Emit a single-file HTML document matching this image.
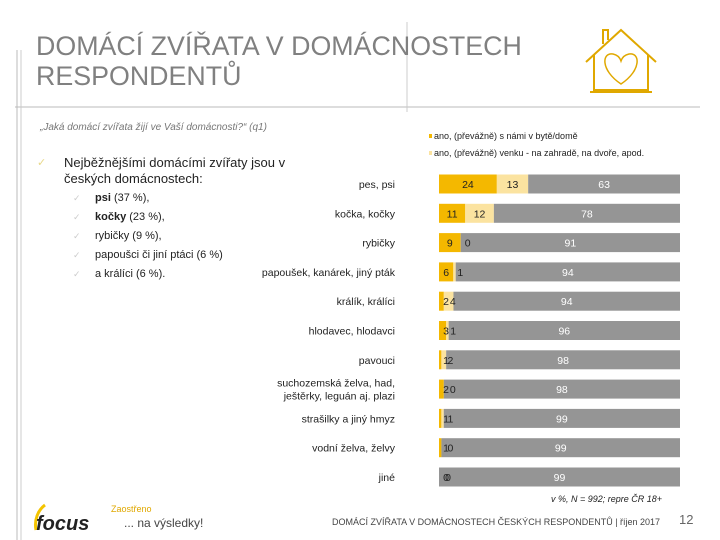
<!DOCTYPE html>
<html><head><meta charset="utf-8"><style>
body{margin:0;background:#fff;}
svg{display:block;font-family:"Liberation Sans",sans-serif;}
</style></head><body>
<svg width="720" height="540" viewBox="0 0 720 540" xmlns="http://www.w3.org/2000/svg">
<line x1="15" y1="107" x2="700" y2="107" stroke="#bbb"/>
<line x1="17" y1="50" x2="17" y2="540" stroke="#bbb"/>
<line x1="21" y1="50" x2="21" y2="540" stroke="#ccc"/>
<line x1="407" y1="22" x2="407" y2="112" stroke="#ccc"/>
<text x="36" y="55" font-size="26.8" fill="#808080">DOMÁCÍ ZVÍŘATA V DOMÁCNOSTECH</text>
<text x="36" y="85" font-size="26.8" fill="#808080">RESPONDENTŮ</text>
<g fill="none" stroke="#E0A800" stroke-width="2">
<path d="M586 62 L621 30 L656 62"/><path d="M594 55 V90 H648 V55"/><path d="M590 92 H652"/><path d="M603 44 V30 H608 V40"/>
<path d="M621 84 C600 70 602 52 613 54 C618 55 620 58 621 61 C622 58 624 55 629 54 C640 52 642 70 621 84Z" stroke-width="1.5"/>
</g>
<text x="40" y="130" font-size="10" font-style="italic" fill="#777">„Jaká domácí zvířata žijí ve Vaší domácnosti?“ (q1)</text>
<text x="37" y="166" font-size="11" fill="#e8d88a">✓</text>
<text x="64" y="167" font-size="13" fill="#222">Nejběžnějšími domácími zvířaty jsou v</text>
<text x="64" y="183" font-size="13" fill="#222">českých domácnostech:</text>
<g font-size="11" fill="#222">
<text x="95" y="201"><tspan font-weight="bold">psi</tspan> (37 %),</text>
<text x="95" y="220"><tspan font-weight="bold">kočky</tspan> (23 %),</text>
<text x="95" y="239">rybičky (9 %),</text>
<text x="95" y="258">papoušci či jiní ptáci (6 %)</text>
<text x="95" y="277">a králíci (6 %).</text>
<g fill="#ccc" font-size="9"><text x="73" y="201">✓</text><text x="73" y="220">✓</text><text x="73" y="239">✓</text><text x="73" y="258">✓</text><text x="73" y="277">✓</text></g>
</g>
<g font-size="9" fill="#222">
<rect x="429" y="134" width="3" height="4" fill="#F4B800"/>
<text x="434" y="139">ano, (převážně) s námi  v bytě/domě</text>
<rect x="429" y="151" width="3" height="4" fill="#FBE3A0"/>
<text x="434" y="156">ano, (převážně) venku - na  zahradě, na dvoře, apod.</text>
</g>
<g id="chart"></g>
<text x="662" y="502" font-size="9" font-style="italic" text-anchor="end" fill="#222">v %, N = 992; repre ČR 18+</text>
<text x="332" y="525" font-size="9" fill="#444">DOMÁCÍ ZVÍŘATA V DOMÁCNOSTECH ČESKÝCH RESPONDENTŮ | říjen 2017</text>
<text x="679" y="524" font-size="13" fill="#666">12</text>
<g>
<path d="M45 505 C38 510 34 520 36 530" stroke="#F4C400" stroke-width="3" fill="none"/>
<text x="36" y="530" font-size="20" font-weight="bold" font-style="italic" fill="#222">focus</text>
<text x="111" y="512" font-size="9" fill="#E0A800">Zaostřeno</text>
<text x="124" y="527" font-size="12" fill="#444">... na výsledky!</text>
</g>
</svg>
<script>
const categories=["pes, psi","kočka, kočky","rybičky","papoušek, kanárek, jiný pták","králík, králíci","hlodavec, hlodavci","pavouci","suchozemská želva, had,|ještěrky, leguán aj. plazi","strašilky a jiný hmyz","vodní želva, želvy","jiné"];
const inside=[24,11,9,6,2,3,1,2,1,1,0];
const outside=[13,12,0,1,4,1,2,0,1,0,0];
const noPet=[63,78,91,94,94,96,98,98,99,99,99];
const NS="http://www.w3.org/2000/svg";
const g=document.getElementById('chart');
const x0=439, W=241, top0=184, step=29.3, bh=19;
function mk(tag,attrs){const e=document.createElementNS(NS,tag);for(const k in attrs)e.setAttribute(k,attrs[k]);g.appendChild(e);return e;}
categories.forEach((c,i)=>{
  const y=top0+i*step;
  const total=inside[i]+outside[i]+noPet[i];
  const xs=v=>x0+v/total*W;
  const parts=c.split('|');
  parts.forEach((p,j)=>{
    const t=mk('text',{x:395,y:y+4+(j-(parts.length-1)/2)*13,'font-size':10.5,'text-anchor':'end',fill:'#222'});
    
    
    t.textContent=p;
  });
  const segs=[[0,inside[i],'#F4B800','#222'],[inside[i],outside[i],'#FBE3A0','#222'],[inside[i]+outside[i],noPet[i],'#959595','#fff']];
  segs.forEach(s=>{
    const r=mk('rect',{x:xs(s[0]),y:y-bh/2,width:Math.max(0,xs(s[0]+s[1])-xs(s[0])),height:bh,fill:s[2]});
    
    
  });
  segs.forEach((s,k)=>{
    let lx=(xs(s[0])+xs(s[0]+s[1]))/2;
    if(k<2 && xs(s[0]+s[1])-xs(s[0])<14) lx=xs(s[0])+7+(k==1&&s[0]<3?2:0);
    const t=mk('text',{x:lx,y:y+4,'font-size':10.5,'text-anchor':'middle',fill:s[3]});
    
    
    t.textContent=s[1];
  });
});
</script>
</body></html>
